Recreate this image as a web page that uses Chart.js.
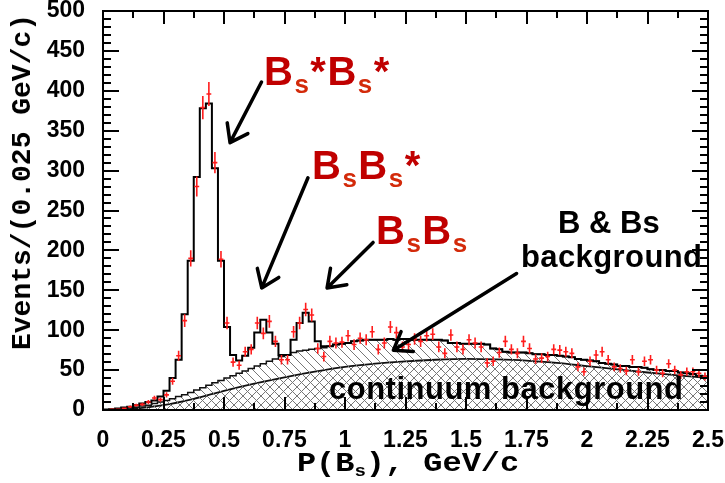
<!DOCTYPE html>
<html>
<head>
<meta charset="utf-8">
<script src="https://cdn.jsdelivr.net/npm/chart.js@4.4.0/dist/chart.umd.min.js"></script>
<style>
  html, body { margin: 0; padding: 0; background: #fff; }
  #wrap { position: relative; width: 725px; height: 483px; overflow: hidden; }
  #wrap canvas { position: absolute; left: 0; top: 0; }
  .lbl { position: absolute; white-space: nowrap; line-height: 1;
         font-family: 'Liberation Sans', Arial, sans-serif; font-weight: bold; }
  .red { color: #c00000; font-size: 40px; letter-spacing: 1.5px; }
  .red sub { font-size: 0.65em; vertical-align: -0.32em; line-height: 1; color: #d32a0a; }
  .blk { color: #000; font-size: 31px; }
  .axt { position: absolute; white-space: nowrap; line-height: 1; color: #000;
         font-family: 'Liberation Mono', 'Courier New', monospace; font-weight: bold; font-size: 28px; }
  .axt sub { font-size: 0.6em; vertical-align: -0.3em; line-height: 1; }
</style>
</head>
<body>
<div id="wrap">
  <canvas id="c" width="725" height="483"></canvas>
  <div class="lbl red" style="left:264px; top:51px;">B<sub>s</sub>*B<sub>s</sub>*</div>
  <div class="lbl red" style="left:312px; top:145px;">B<sub>s</sub>B<sub>s</sub>*</div>
  <div class="lbl red" style="left:376px; top:210px;">B<sub>s</sub>B<sub>s</sub></div>
  <div class="lbl blk" style="left:558px; top:207px;">B &amp; Bs</div>
  <div class="lbl blk" style="left:521px; top:241px; letter-spacing: 0.4px;">background</div>
  <div class="lbl blk" style="left:329px; top:373px; letter-spacing: 0.5px;">continuum background</div>
  <div class="axt" style="left:23px; top:182px; transform: translate(-50%, -50%) rotate(-90deg);">Events/(0.025 GeV/c)</div>
  <div class="axt" style="left:408px; top:465px; transform: translate(-50%, -50%) scaleX(1.14);">P(B<sub>s</sub>), GeV/c</div>
</div>
<script>
    'use strict';

    // ----------------------------
    // Data
    // ----------------------------

    var binWidth = 0.025;

    var xTickLabels = ['0', '0.25', '0.5', '0.75', '1', '1.25', '1.5', '1.75', '2', '2.25', '2.5'];
    var yTickLabels = ['0', '50', '100', '150', '200', '250', '300', '350', '400', '450', '500'];

    // total fit (signal + backgrounds), events per bin
    var totalFit = [
        0.5, 1, 2, 3, 4, 6, 8, 10, 12, 17,
        24, 40, 63, 120, 187, 292, 378, 384, 303, 187,
        104, 69, 62, 68, 78, 97, 113, 97, 83, 69,
        69, 88, 109, 122, 111, 86, 80, 80, 82, 83,
        84, 86, 87, 88, 88, 88, 88, 89, 88, 89,
        89, 88, 88, 88, 88, 88, 87, 84, 84, 83,
        83, 83, 83, 82, 77, 76, 73, 72, 72, 72,
        71, 70, 70, 69, 69, 68, 67, 66, 64, 63,
        62, 61, 59, 58, 57, 55, 55, 54, 54, 53,
        51, 50, 50, 49, 49, 47, 46, 45, 43, 42
    ];

    // B & Bs background, stacked on the continuum
    var bkgBBs = [
        0, 0.5, 1, 1.5, 2.5, 3.5, 5, 6, 8, 10,
        12, 14, 17, 19, 22, 25, 28, 31, 34, 37,
        40, 43, 46, 49, 52, 55, 58, 61, 64, 67,
        69, 72, 74, 75, 76, 77, 78, 80, 82, 83,
        84, 86, 87, 88, 88, 88, 88, 89, 88, 89,
        89, 88, 88, 88, 88, 88, 87, 84, 84, 83,
        83, 83, 83, 82, 77, 76, 73, 72, 72, 72,
        71, 70, 70, 69, 69, 68, 67, 66, 64, 63,
        62, 61, 59, 58, 57, 55, 55, 54, 54, 53,
        51, 50, 50, 49, 49, 47, 46, 45, 43, 42
    ];

    // continuum background (smooth curve)
    var contX = [0, 0.125, 0.25, 0.375, 0.5, 0.625, 0.75, 0.875, 1, 1.125, 1.25,
                 1.375, 1.5, 1.625, 1.75, 1.875, 2, 2.125, 2.25, 2.375, 2.5];
    var contY = [0, 1.5, 6, 14, 24, 33, 41, 48, 54, 58, 61,
                 63, 64, 63.5, 62, 59, 55, 51, 47, 43.5, 40];

    // measured events per bin and their errors
    var dataY = [
        0, 1, 1, 2, 4, 6, 7, 10, 15, 13,
        19, 36, 68, 112, 190, 280, 379, 396, 310, 189,
        109, 60, 56, 73, 76, 109, 96, 111, 86, 63,
        63, 98, 109, 126, 119, 77, 67, 86, 84, 85,
        93, 82, 90, 88, 98, 76, 84, 104, 97, 79,
        82, 89, 86, 93, 95, 79, 71, 94, 79, 76,
        88, 84, 79, 59, 61, 72, 86, 76, 71, 86,
        77, 64, 65, 67, 76, 75, 73, 71, 54, 48,
        61, 69, 73, 63, 54, 52, 49, 63, 48, 61,
        63, 50, 46, 58, 50, 44, 48, 48, 46, 42
    ];
    var dataErr = [
        0, 0.8, 0.8, 1.1, 1.5, 1.8, 2, 2.4, 2.9, 2.7,
        3.3, 4.5, 6.2, 7.9, 10.3, 12.5, 14.6, 14.9, 13.2, 10.3,
        7.8, 5.8, 5.6, 6.4, 6.5, 7.8, 7.3, 7.9, 7, 6,
        6, 7.4, 7.8, 8.4, 8.2, 6.6, 6.1, 7, 6.9, 6.9,
        7.2, 6.8, 7.1, 7, 7.4, 6.5, 6.9, 7.6, 7.4, 6.7,
        6.8, 7.1, 7, 7.2, 7.3, 6.7, 6.3, 7.3, 6.7, 6.5,
        7, 6.9, 6.7, 5.8, 5.9, 6.4, 7, 6.5, 6.3, 7,
        6.6, 6, 6, 6.1, 6.5, 6.5, 6.4, 6.3, 5.5, 5.2,
        5.9, 6.2, 6.4, 6, 5.5, 5.4, 5.3, 6, 5.2, 5.9,
        6, 5.3, 5.1, 5.7, 5.3, 5, 5.2, 5.2, 5.1, 4.9
    ];

    // annotation arrows, tail -> head, in data units
    var arrows = [
        [0.655, 411, 0.525, 335],
        [0.847, 291, 0.656, 153],
        [1.116, 210, 0.926, 153],
        [1.709, 171, 1.200, 75]
    ];

    // ----------------------------
    // Helpers
    // ----------------------------

    // bin low edges plus the closing edge, for a step line
    function histPoints(vals) {
        var pts = [];
        for (var i = 0; i < vals.length; i++) {
            pts.push({x: i * binWidth, y: vals[i]});
        }
        pts.push({x: vals.length * binWidth, y: vals[vals.length - 1]});
        return pts;
    }

    function curvePoints(xs, ys) {
        return xs.map(function (x, i) { return {x: x, y: ys[i]}; });
    }

    function dataPoints() {
        return dataY.map(function (v, i) { return {x: (i + 0.5) * binWidth, y: v}; });
    }

    var canvas = document.getElementById('c');
    var ctx = canvas.getContext('2d');

    // diagonal hatch tile; dir > 0 is '/', otherwise '\'
    function hatch(dir) {
        var n = 9;
        var t = document.createElement('canvas');
        t.width = n; t.height = n;
        var g = t.getContext('2d');
        g.strokeStyle = '#777';
        g.lineWidth = 1;
        g.beginPath();
        if (dir > 0) {
            g.moveTo(-1, n + 1); g.lineTo(n + 1, -1);
            g.moveTo(-1, 1); g.lineTo(1, -1);
            g.moveTo(n - 1, n + 1); g.lineTo(n + 1, n - 1);
        } else {
            g.moveTo(-1, -1); g.lineTo(n + 1, n + 1);
            g.moveTo(-1, n - 1); g.lineTo(1, n + 1);
            g.moveTo(n - 1, -1); g.lineTo(n + 1, 1);
        }
        g.stroke();
        return ctx.createPattern(t, 'repeat');
    }

    // ----------------------------
    // Plugins
    // ----------------------------

    var errorBars = {
        id: 'errorBars',
        afterDatasetsDraw: function (chart) {
            var meta = chart.getDatasetMeta(3);
            var ys = chart.scales.y, xs = chart.scales.x;
            var c = chart.ctx;
            c.save();
            c.strokeStyle = '#ff1c1c';
            c.lineWidth = 1.6;
            c.beginPath();
            meta.data.forEach(function (pt, i) {
                var x0 = xs.getPixelForValue((i + 0.1) * binWidth);
                var x1 = xs.getPixelForValue((i + 0.9) * binWidth);
                c.moveTo(pt.x, ys.getPixelForValue(dataY[i] + dataErr[i]));
                c.lineTo(pt.x, ys.getPixelForValue(Math.max(0, dataY[i] - dataErr[i])));
                c.moveTo(x0, pt.y);
                c.lineTo(x1, pt.y);
            });
            c.stroke();
            c.restore();
        }
    };

    var frame = {
        id: 'frame',
        afterDraw: function (chart) {
            var a = chart.chartArea;
            var xs = chart.scales.x, ys = chart.scales.y;
            var c = chart.ctx;
            var v, p, len;
            c.save();
            c.strokeStyle = '#000';
            c.lineWidth = 2;
            c.beginPath();
            // y ticks every 10, longer every 50, on both sides
            for (v = 0; v <= 500; v += 10) {
                p = Math.round(ys.getPixelForValue(v));
                len = (v % 50 === 0) ? 16 : 8;
                c.moveTo(a.left, p); c.lineTo(a.left + len, p);
                c.moveTo(a.right, p); c.lineTo(a.right - len, p);
            }
            // x ticks every 0.125, longer every 0.25, top and bottom
            for (var k = 0; k <= 20; k++) {
                p = Math.round(xs.getPixelForValue(k * 0.125));
                len = (k % 2 === 0) ? 13 : 7;
                c.moveTo(p, a.bottom); c.lineTo(p, a.bottom - len);
                c.moveTo(p, a.top); c.lineTo(p, a.top + len);
            }
            c.stroke();
            c.strokeRect(a.left, a.top, a.right - a.left, a.bottom - a.top);

            // arrows
            c.lineWidth = 3.5;
            c.lineCap = 'round';
            c.lineJoin = 'round';
            arrows.forEach(function (ar) {
                var x0 = xs.getPixelForValue(ar[0]), y0 = ys.getPixelForValue(ar[1]);
                var x1 = xs.getPixelForValue(ar[2]), y1 = ys.getPixelForValue(ar[3]);
                var ang = Math.atan2(y1 - y0, x1 - x0);
                var hl = 20, spread = 0.62;
                c.beginPath();
                c.moveTo(x0, y0); c.lineTo(x1, y1);
                c.moveTo(x1 - hl * Math.cos(ang - spread), y1 - hl * Math.sin(ang - spread));
                c.lineTo(x1, y1);
                c.lineTo(x1 - hl * Math.cos(ang + spread), y1 - hl * Math.sin(ang + spread));
                c.stroke();
            });
            c.restore();
        }
    };

    // ----------------------------
    // Chart
    // ----------------------------

    var tickFont = {family: "'Liberation Sans', Arial, sans-serif", weight: 'bold', size: 23, lineHeight: 1};

    new Chart(ctx, {
        type: 'line',
        data: {
            datasets: [{
                label: 'Total fit',
                data: histPoints(totalFit),
                stepped: 'before',
                borderColor: '#000',
                borderWidth: 2,
                pointRadius: 0,
                fill: false
            }, {
                label: 'B & Bs background',
                data: histPoints(bkgBBs),
                stepped: 'before',
                borderColor: '#111',
                borderWidth: 1.5,
                pointRadius: 0,
                fill: 'origin',
                backgroundColor: hatch(-1)
            }, {
                label: 'continuum background',
                data: curvePoints(contX, contY),
                cubicInterpolationMode: 'monotone',
                borderColor: '#111',
                borderWidth: 1.8,
                pointRadius: 0,
                fill: 'origin',
                backgroundColor: hatch(1)
            }, {
                label: 'Data',
                data: dataPoints(),
                showLine: false,
                pointRadius: 0
            }]
        },
        options: {
            responsive: false,
            animation: false,
            events: [],
            layout: {padding: {left: 0, right: 17, top: 11, bottom: 0}},
            plugins: {legend: {display: false}, tooltip: {enabled: false}},
            scales: {
                x: {
                    type: 'linear',
                    min: 0,
                    max: 2.5,
                    grid: {display: false},
                    border: {display: false},
                    ticks: {
                        stepSize: 0.25,
                        padding: 11,
                        color: '#000',
                        font: tickFont,
                        maxRotation: 0,
                        autoSkip: false,
                        callback: function (v, i) { return xTickLabels[i]; }
                    },
                    afterFit: function (s) { s.height = 73; s.paddingLeft = 0; s.paddingRight = 0; }
                },
                y: {
                    min: 0,
                    max: 500,
                    grid: {display: false},
                    border: {display: false},
                    ticks: {
                        stepSize: 50,
                        padding: 10,
                        color: '#000',
                        font: tickFont,
                        callback: function (v, i) { return yTickLabels[i]; }
                    },
                    afterFit: function (s) { s.width = 103; s.paddingTop = 0; s.paddingBottom = 0; }
                }
            }
        },
        plugins: [errorBars, frame]
    });
</script>
</body>
</html>
